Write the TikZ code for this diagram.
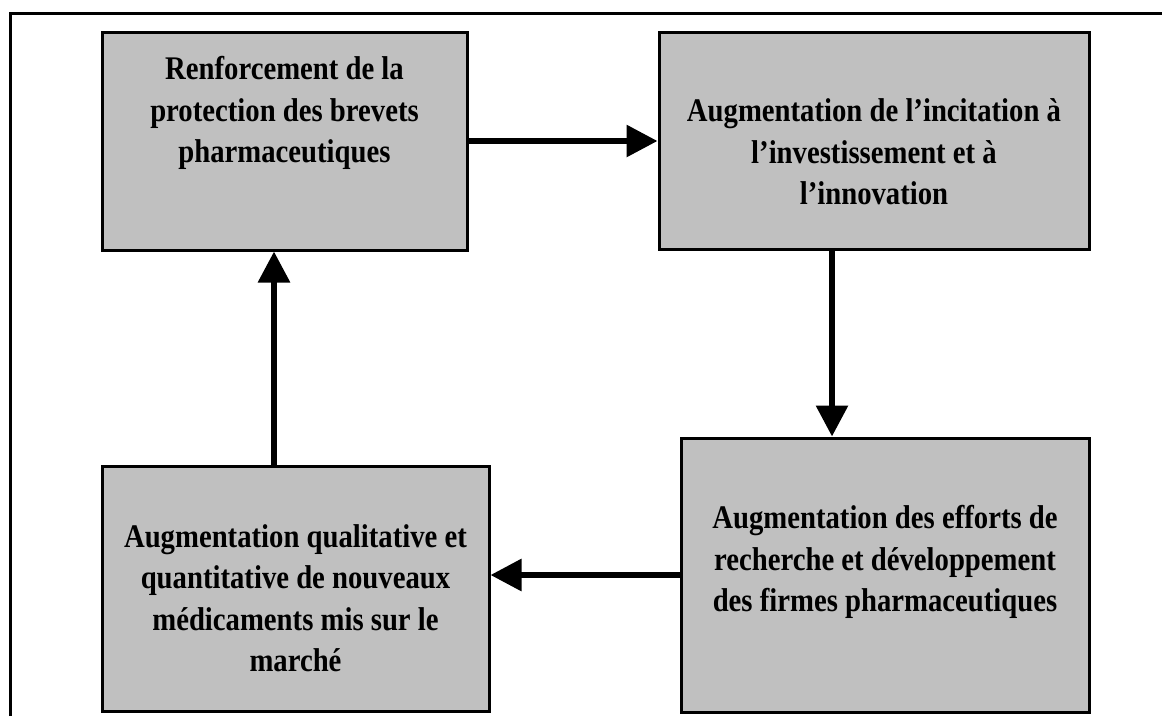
\documentclass[tikz,border=0pt]{standalone}
\usepackage{fontspec}
\setmainfont{Liberation Serif}[FakeStretch=0.87]
\usetikzlibrary{arrows.meta}
\definecolor{boxgray}{RGB}{192,192,192}

\begin{document}
\begin{tikzpicture}[x=1pt,y=-1pt,
  box/.style={rectangle,draw=black,fill=boxgray,line width=3pt,inner sep=0pt},
  txt/.style={align=center,inner sep=0pt,font=\fontsize{33}{41.5}\selectfont\bfseries},
  flow/.style={line width=6pt,-{Triangle[length=31pt,width=31pt]}}]
\useasboundingbox (0,0) rectangle (1162,716);

% frame
\draw[line width=3pt] (10,716) -- (10,13) -- (1162,13);

\node[box,minimum width=365pt,minimum height=218pt] (renfo) at (284.5,141) {};
\node[box,minimum width=430pt,minimum height=217pt] (incit) at (874,140.5) {};
\node[box,minimum width=408pt,minimum height=274pt] (effort) at (885,575) {};
\node[box,minimum width=387pt,minimum height=245pt] (medic) at (295.5,588.5) {};

\node[txt] (renfo-t) at (284.5,113) {Renforcement de la\\protection des brevets\\pharmaceutiques};
\node[txt] (incit-t) at (874,152) {Augmentation de l’incitation à\\l’investissement et à\\l’innovation};
\node[txt] (effort-t) at (885,562) {Augmentation des efforts de\\recherche et développement\\des firmes pharmaceutiques};
\node[txt] (medic-t) at (295.5,598) {Augmentation qualitative et\\quantitative de nouveaux\\médicaments mis sur le\\marché};

\coordinate (dn) at (832,0);
\coordinate (up) at (274,0);
\draw[flow] (renfo.east) -- (renfo.east -| incit.west);
\draw[flow] (incit.south -| dn) -- (effort.north -| dn);
\draw[flow] (effort.west) -- (effort.west -| medic.east);
\draw[flow] (medic.north -| up) -- (renfo.south -| up);
\end{tikzpicture}
\end{document}
